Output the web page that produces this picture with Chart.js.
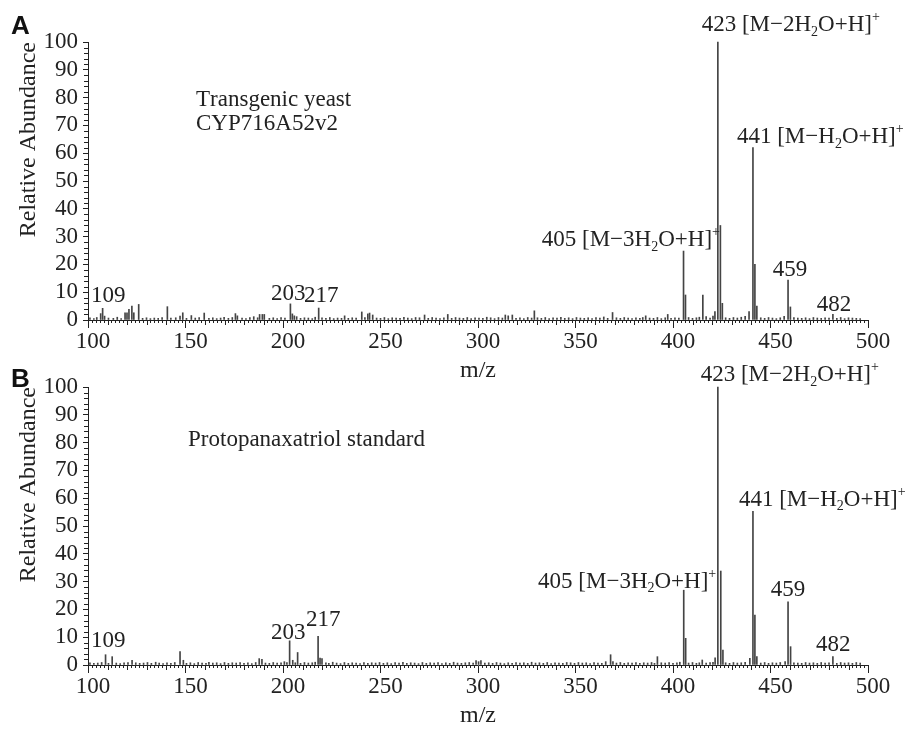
<!DOCTYPE html>
<html>
<head>
<meta charset="utf-8">
<script src="https://cdn.jsdelivr.net/npm/chart.js@4"></script>
<style>
  body { margin: 0; background: #fff; }
  #wrap { position: relative; width: 910px; height: 734px; }
  canvas { position: absolute; left: 0; }
  #chartA { top: 0; }
  #chartB { top: 345px; }
</style>
</head>
<body>
<div id="wrap">
  <canvas id="chartA" width="910" height="389"></canvas>
  <canvas id="chartB" width="910" height="389"></canvas>
</div>
<script>
// axis ticks
var xTicks = [100, 150, 200, 250, 300, 350, 400, 450, 500];
var yTicks = [0, 10, 20, 30, 40, 50, 60, 70, 80, 90, 100];

// Panel A - transgenic yeast (m/z and relative abundance)
var mzA = [
  101, 103, 104.5, 106.5, 107.5, 108.5, 110.5, 113, 115, 117,
  119, 120, 121, 122.5, 123.5, 126, 128, 130, 132, 134,
  136, 138, 140.7, 142.5, 145, 147.2, 148.6, 150.5, 153, 155,
  157, 159.6, 162, 164, 166, 168, 169.8, 172, 174, 175.6,
  176.6, 179, 181, 183, 185, 187, 188, 189.4, 190.4, 193,
  195, 197, 199, 201, 203.8, 204.8, 205.8, 207, 209, 211,
  213, 215, 216.5, 218.3, 220, 222, 224, 226, 228, 230,
  231.6, 233.5, 235.5, 237.5, 240.4, 242, 243.5, 244.4, 246, 248,
  250, 252, 254, 256, 258, 260, 262, 264, 266, 268,
  270, 272.6, 274.5, 276.5, 278.5, 280.5, 282.5, 284.5, 286.5, 288.5,
  290.5, 292.5, 294.5, 296.5, 298.5, 300.5, 302.5, 304.5, 306.5, 308.5,
  310.5, 312.5, 314, 315.5, 317.6, 319.5, 321.5, 323.5, 325.5, 327.5,
  328.9, 330.5, 332.5, 334.5, 336.5, 338.5, 340.5, 342.5, 344.5, 346.5,
  348.5, 350.5, 352.5, 354.5, 356.5, 358.5, 360.5, 362.5, 364.5, 366.5,
  369, 371, 373, 375, 377, 379, 381, 383, 384.5, 386,
  388, 390, 392, 394, 396, 397.3, 399, 401, 403, 405.4,
  406.4, 408, 410, 412, 413.5, 415.3, 417, 419, 420.5, 421.5,
  423, 424.3, 425.3, 427, 429, 431, 433, 435, 437, 439,
  441, 442, 443, 445, 447, 449, 451, 453, 455, 457,
  459, 460.2, 462, 464, 466, 468, 470, 472, 474, 476,
  478, 480, 482, 484, 486, 488, 490, 492, 494, 496
];
var abA = [
  0.8, 0.5, 0.9, 2.3, 4.2, 1.4, 0.7, 0.6, 1.0, 0.5,
  2.6, 2.6, 3.8, 5.0, 2.6, 5.6, 0.6, 0.8, 0.5, 0.7,
  0.6, 0.9, 4.8, 0.7, 0.8, 1.4, 2.6, 0.6, 1.6, 0.7,
  0.9, 2.5, 0.6, 0.8, 0.5, 0.7, 1.0, 0.6, 0.9, 2.3,
  1.5, 0.7, 0.5, 0.9, 1.2, 0.8, 2.0, 2.0, 2.0, 0.6,
  0.8, 0.5, 0.9, 0.7, 5.8, 2.2, 1.5, 1.2, 0.6, 0.8,
  0.7, 0.5, 1.0, 4.3, 0.8, 0.6, 0.9, 0.5, 0.7, 0.6,
  1.5, 0.6, 0.8, 0.7, 2.9, 0.9, 2.2, 2.5, 1.8, 0.7,
  0.6, 0.9, 0.5, 0.8, 0.7, 0.6, 1.0, 0.7, 0.5, 0.9,
  0.8, 1.8, 0.6, 0.9, 0.7, 0.5, 0.8, 2.0, 0.6, 0.9,
  0.7, 0.6, 0.9, 0.5, 0.8, 0.7, 0.6, 1.0, 0.8, 0.5,
  0.9, 0.7, 1.8, 1.5, 1.8, 0.6, 0.8, 0.5, 0.9, 0.7,
  3.3, 0.8, 0.6, 0.9, 0.5, 0.8, 0.7, 1.0, 0.6, 0.8,
  0.5, 0.9, 0.7, 0.6, 0.8, 0.5, 0.9, 0.7, 1.1, 0.6,
  2.7, 0.8, 0.6, 0.9, 0.7, 0.5, 0.8, 0.6, 0.9, 1.5,
  0.7, 0.6, 0.9, 0.5, 0.8, 2.0, 0.6, 0.8, 0.7, 24.8,
  9.0, 0.9, 0.6, 0.8, 1.0, 9.0, 1.2, 0.7, 1.4, 3.0,
  100, 34, 6.0, 0.8, 0.6, 0.9, 0.7, 1.0, 1.3, 3.0,
  62, 20, 5.0, 0.8, 0.6, 0.9, 0.7, 0.5, 0.8, 1.3,
  14.4, 4.7, 0.9, 0.7, 0.6, 0.8, 0.5, 0.9, 0.7, 0.6,
  0.8, 0.7, 2.0, 0.6, 0.9, 0.5, 0.8, 0.7, 0.6, 0.5
];

// Panel B - protopanaxatriol standard
var mzB = [
  101, 103, 105, 107, 109, 110.5, 112.4, 114.5, 116.5, 118.5,
  120.5, 122.6, 124.5, 126.5, 128.5, 130.5, 132.5, 134.7, 136.5, 138.5,
  140.5, 142.5, 144.5, 147.2, 148.9, 150.5, 152.5, 154.5, 156.5, 158.5,
  160.5, 162, 164, 166, 168, 170, 172, 174, 176, 178,
  180, 182, 184, 186, 187.8, 189.2, 191, 193, 195, 197,
  199, 200.7, 202, 203.4, 205, 206.3, 207.5, 209, 211, 213,
  215, 216.5, 218, 219, 220, 222, 223.5, 225.5, 227.5, 229.5,
  231.5, 233.5, 235.5, 237.5, 239.5, 241.5, 243.5, 245.5, 247.5, 249.5,
  251.5, 253.5, 255.5, 257.5, 259.5, 261.5, 263.5, 265.5, 267.5, 269.5,
  271.5, 273.5, 275.5, 277.5, 279.5, 281.5, 283.5, 285.5, 287.5, 289.5,
  291.5, 293.5, 295.5, 297.5, 299, 300.3, 301.5, 303.5, 305.5, 307.5,
  309.5, 311.5, 313.5, 315.5, 317.5, 319.5, 321.5, 323.5, 325.5, 327.5,
  329.5, 331.5, 333.5, 335.5, 337.5, 339.5, 341.5, 343.5, 345.5, 347.5,
  349.5, 351.5, 353.5, 355.5, 357.5, 359.5, 361.5, 363.5, 365.5, 368,
  369.2, 371, 373, 375, 377, 379, 381, 383, 385, 387,
  389, 390.5, 392, 394, 396, 398, 400, 402, 403.5, 405.5,
  406.5, 408, 410, 412, 413.5, 415, 417, 419, 420.5, 421.6,
  423, 424.5, 425.6, 427, 429, 431, 433, 435, 437, 439.4,
  441, 442, 443, 445, 447, 449, 451, 453, 455, 457.5,
  459, 460.3, 462, 464, 466, 468, 470, 472, 474, 476,
  478, 480, 482, 484, 486, 488, 490, 492, 494, 496
];
var abB = [
  0.8, 0.6, 0.7, 0.9, 3.7, 0.6, 3.0, 0.7, 0.5, 0.8,
  0.9, 1.7, 0.8, 0.6, 0.7, 0.9, 0.6, 1.0, 0.7, 0.5,
  0.8, 0.6, 0.9, 4.8, 1.7, 0.6, 0.8, 0.5, 0.9, 0.7,
  0.6, 1.0, 0.7, 0.8, 0.5, 0.9, 0.6, 0.8, 0.7, 0.9,
  0.6, 0.8, 0.5, 0.9, 2.3, 2.0, 0.7, 0.6, 0.9, 0.7,
  0.8, 1.2, 0.9, 8.7, 1.7, 0.8, 4.5, 0.6, 0.9, 0.7,
  0.8, 1.0, 10.3, 2.5, 2.3, 0.8, 0.6, 1.0, 0.7, 0.5,
  0.9, 0.6, 0.8, 0.7, 0.5, 0.9, 0.6, 0.8, 0.7, 0.9,
  0.6, 0.8, 0.5, 0.9, 0.7, 1.0, 0.6, 0.8, 0.7, 0.5,
  0.9, 0.6, 0.8, 0.7, 0.9, 0.5, 0.8, 0.6, 1.0, 0.7,
  0.6, 0.8, 0.9, 0.7, 1.6, 1.2, 1.6, 0.7, 0.8, 0.6,
  0.9, 0.7, 0.5, 0.8, 0.6, 0.9, 0.7, 0.8, 0.6, 1.0,
  0.7, 0.8, 0.6, 0.9, 0.5, 0.8, 0.7, 0.6, 0.9, 0.8,
  0.6, 0.9, 0.7, 0.8, 0.5, 0.9, 0.7, 0.6, 1.2, 3.7,
  1.2, 0.7, 0.9, 0.6, 0.8, 0.7, 0.9, 0.6, 0.8, 0.7,
  0.9, 0.6, 3.0, 0.8, 0.7, 0.9, 0.6, 0.8, 1.0, 26.9,
  9.6, 0.7, 0.9, 0.6, 0.8, 1.8, 0.7, 0.9, 1.0, 2.6,
  100, 33.8, 5.4, 0.8, 0.6, 0.9, 0.7, 0.8, 1.0, 2.4,
  55.3, 18, 3.0, 0.7, 0.9, 0.6, 0.8, 0.7, 0.9, 1.2,
  22.7, 6.6, 0.8, 0.7, 0.6, 0.9, 0.7, 0.8, 0.6, 0.9,
  0.7, 0.8, 3.0, 0.6, 0.9, 0.7, 0.8, 0.6, 0.9, 0.7
];

// peak labels, placed in data units (m/z, abundance) at the text's left edge
var labelsA = [
  { text: "423 [M\u22122H_2O+H]^+", m: 414.7, v: 106 },
  { text: "441 [M\u2212H_2O+H]^+", m: 432.8, v: 65.8 },
  { text: "405 [M\u22123H_2O+H]^+", m: 332.7, v: 28.8 },
  { text: "459", m: 451.1, v: 18 },
  { text: "482", m: 473.7, v: 5.4 },
  { text: "109", m: 101.5, v: 8.6 },
  { text: "203", m: 193.8, v: 9.4 },
  { text: "217", m: 210.8, v: 8.6 },
  { text: "Transgenic yeast", m: 155.4, v: 79 },
  { text: "CYP716A52v2", m: 155.4, v: 70.5 }
];
var labelsB = [
  { text: "423 [M\u22122H_2O+H]^+", m: 414.2, v: 104.3 },
  { text: "441 [M\u2212H_2O+H]^+", m: 433.8, v: 59.4 },
  { text: "405 [M\u22123H_2O+H]^+", m: 330.8, v: 30 },
  { text: "459", m: 450.1, v: 27 },
  { text: "482", m: 473.3, v: 7.2 },
  { text: "109", m: 101.5, v: 8.6 },
  { text: "203", m: 193.8, v: 11.5 },
  { text: "217", m: 211.8, v: 16.2 },
  { text: "Protopanaxatriol standard", m: 151.3, v: 81 }
];

var SERIF = '"Liberation Serif", "Times New Roman", serif';
Chart.defaults.font.family = SERIF;
Chart.defaults.color = "#222";

// draws text with _x as subscript and ^x as superscript
function drawRich(ctx, str, x, y, size) {
  var i = 0;
  while (i < str.length) {
    var ch = str[i];
    var dy = 0;
    var s = size;
    if ((ch === "_" || ch === "^") && i + 1 < str.length) {
      dy = ch === "_" ? size * 0.3 : -size * 0.33;
      s = Math.round(size * 0.6);
      ch = str[i + 1];
      i += 2;
    } else {
      i++;
    }
    ctx.font = s + "px " + SERIF;
    ctx.fillText(ch, x, y + dy);
    x += ctx.measureText(ch).width;
  }
}

var minorTicks = {
  id: "minorTicks",
  afterDraw: function (chart) {
    var ctx = chart.ctx;
    var x = chart.scales.x;
    var y = chart.scales.y;
    var area = chart.chartArea;
    ctx.save();
    ctx.strokeStyle = "#222";
    ctx.lineWidth = 1;
    ctx.beginPath();
    for (var m = 102; m < 500; m += 2) {
      if (m % 50 === 0) continue;
      var px = Math.round(x.getPixelForValue(m)) + 0.5;
      var len = m % 10 === 0 ? 5 : 3;
      ctx.moveTo(px, area.bottom);
      ctx.lineTo(px, area.bottom + len);
    }
    for (var v = 2; v < 100; v += 2) {
      if (v % 10 === 0) continue;
      var py = Math.round(y.getPixelForValue(v)) + 0.5;
      ctx.moveTo(area.left, py);
      ctx.lineTo(area.left - 4, py);
    }
    ctx.stroke();
    ctx.restore();
  }
};

var peakLabels = {
  id: "peakLabels",
  afterDraw: function (chart, args, opts) {
    var ctx = chart.ctx;
    var x = chart.scales.x;
    var y = chart.scales.y;
    ctx.save();
    ctx.fillStyle = "#222";
    ctx.textBaseline = "middle";
    ctx.textAlign = "left";
    opts.items.forEach(function (lb) {
      drawRich(ctx, lb.text, x.getPixelForValue(lb.m), y.getPixelForValue(lb.v), 23);
    });
    // panel letter
    ctx.font = 'bold 26px "Liberation Sans", Arial, sans-serif';
    ctx.fillStyle = "#111";
    ctx.fillText(opts.letter, 11, opts.letterY);
    ctx.restore();
  }
};

function makeChart(id, mz, ab, labels, letter, letterY) {
  var points = mz.map(function (m, i) {
    return { x: m, y: ab[i] };
  });
  return new Chart(document.getElementById(id), {
    type: "bar",
    data: {
      datasets: [
        {
          data: points,
          backgroundColor: "#444",
          borderWidth: 0,
          barThickness: 1,
          clip: false
        }
      ]
    },
    options: {
      responsive: false,
      animation: false,
      layout: { padding: { left: 0, right: 42, top: 42, bottom: 0 } },
      plugins: {
        legend: { display: false },
        tooltip: { enabled: false },
        peakLabels: { items: labels, letter: letter, letterY: letterY }
      },
      scales: {
        x: {
          type: "linear",
          min: 100,
          max: 500,
          offset: false,
          afterBuildTicks: function (scale) {
            scale.ticks = xTicks.map(function (v) { return { value: v }; });
          },
          afterFit: function (scale) { scale.height = 69; },
          ticks: { font: { size: 23 }, padding: 0, labelOffset: 5, maxRotation: 0, autoSkip: false, color: "#222" },
          grid: { drawOnChartArea: false, offset: false, tickLength: 8, color: "#222" },
          border: { color: "#222", width: 1 },
          title: { display: true, text: "m/z", font: { size: 24 }, color: "#222", padding: { top: 0, bottom: 4 } }
        },
        y: {
          min: 0,
          max: 100,
          afterBuildTicks: function (scale) {
            scale.ticks = yTicks.map(function (v) { return { value: v }; });
          },
          afterFit: function (scale) { scale.width = 88; },
          ticks: { font: { size: 23 }, padding: 5, autoSkip: false, color: "#222" },
          grid: { drawOnChartArea: false, tickLength: 5, color: "#222" },
          border: { color: "#222", width: 1 },
          title: { display: true, text: "Relative Abundance", align: "end", font: { size: 24 }, color: "#222", padding: { top: 14, bottom: 0 } }
        }
      }
    },
    plugins: [minorTicks, peakLabels]
  });
}

makeChart("chartA", mzA, abA, labelsA, "A", 27);
makeChart("chartB", mzB, abB, labelsB, "B", 35);
</script>
</body>
</html>
